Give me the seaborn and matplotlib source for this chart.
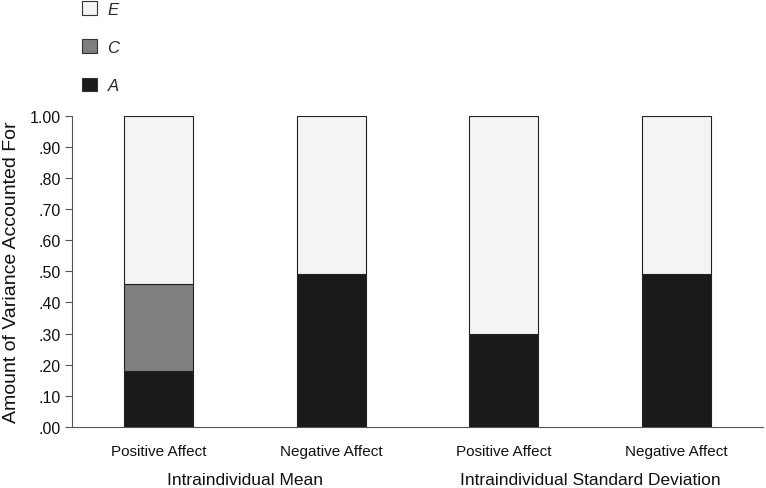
import matplotlib
matplotlib.use("Agg")
import matplotlib.pyplot as plt
from matplotlib.patches import Patch
import numpy as np
import pandas as pd
import seaborn as sns

# values
conditions = ["Positive Affect", "Negative Affect", "Positive Affect", "Negative Affect"]
groups = ["Intraindividual Mean", "Intraindividual Standard Deviation"]
a_values = [0.18, 0.49, 0.30, 0.49]
c_values = [0.28, 0.00, 0.00, 0.00]
e_values = [0.54, 0.51, 0.70, 0.51]
y_ticks = [0.0, 0.1, 0.2, 0.3, 0.4, 0.5, 0.6, 0.7, 0.8, 0.9, 1.0]
y_tick_labels = [".00", ".10", ".20", ".30", ".40", ".50", ".60", ".70", ".80", ".90", "1.00"]

colors = {"A": "#1a1a1a", "C": "#7f7f7f", "E": "#f4f4f4"}

sns.set_theme(style="white")
plt.rcParams["font.family"] = ["Liberation Sans", "DejaVu Sans"]

df = pd.DataFrame({
    "slot": [f"{i}" for i in range(len(conditions))],
    "A": a_values,
    "C": c_values,
    "E": e_values,
})
df["AC"] = df["A"] + df["C"]

fig = plt.figure(figsize=(7.66, 4.89), dpi=100)
ax = fig.add_axes([0.094, 0.125, 0.902, 0.636])

# stacked bars: A at bottom, C above it, E on top
sns.barplot(data=df, x="slot", y="A", color=colors["A"], width=0.4,
            edgecolor="#222222", linewidth=0.8, saturation=1, ax=ax)
sns.barplot(data=df[df["C"] > 0], x="slot", y="C", bottom=df.loc[df["C"] > 0, "A"].values,
            color=colors["C"], width=0.4, edgecolor="#222222", linewidth=0.8,
            saturation=1, ax=ax, order=df["slot"])
sns.barplot(data=df, x="slot", y="E", bottom=df["AC"].values, color=colors["E"],
            width=0.4, edgecolor="#222222", linewidth=0.8, saturation=1, ax=ax)

ax.set_xlim(-0.5, len(conditions) - 0.5)
ax.set_ylim(0, 1.0)
ax.set_yticks(y_ticks)
ax.set_yticklabels(y_tick_labels, fontsize=11.5, color="#111111")
ax.set_ylabel("Amount of Variance Accounted For", fontsize=14, labelpad=7, color="#111111")
ax.set_xlabel("")

# category labels without ticks, ticks at the boundaries
ax.set_xticks(range(len(conditions)))
ax.set_xticklabels(conditions, fontsize=11, color="#111111")
ax.tick_params(axis="x", which="major", length=0, pad=12)
ax.set_xticks(np.arange(0.5, len(conditions), 1.0), minor=True)
ax.tick_params(axis="x", which="minor", length=6, color="#555555", width=0.8, direction="out")
ax.tick_params(axis="y", length=5, color="#555555", width=0.8, direction="out", left=True, pad=3)

sns.despine(ax=ax)
ax.spines["left"].set_color("#555555")
ax.spines["bottom"].set_color("#555555")
ax.spines["left"].set_linewidth(0.8)
ax.spines["bottom"].set_linewidth(0.8)

# group labels under the pairs of bars
for i, g in enumerate(groups):
    ax.text(2 * i + 0.5, -0.145, g, transform=ax.get_xaxis_transform(),
            ha="center", va="top", fontsize=12.5, color="#111111")

handles = [Patch(facecolor=colors[k], edgecolor="#333333", linewidth=0.8) for k in ["E", "C", "A"]]
leg = fig.legend(handles, ["E", "C", "A"], loc="upper left", bbox_to_anchor=(0.088, 1.026),
                 frameon=False, handlelength=0.9, handleheight=0.9, labelspacing=1.35,
                 handletextpad=0.6, prop={"style": "italic", "size": 12})

fig.savefig("out.png", dpi=100)
